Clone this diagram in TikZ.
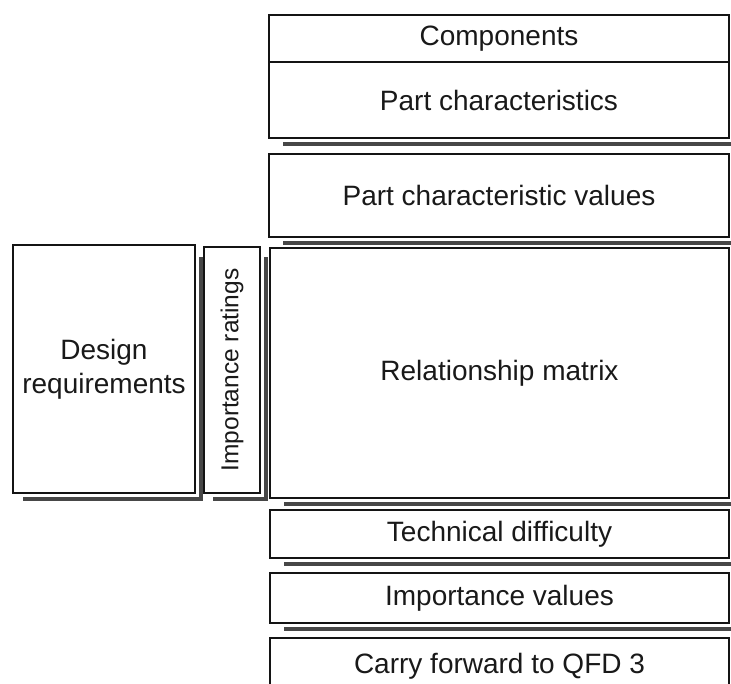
\documentclass[tikz,border=0pt]{standalone}
\usepackage{fontspec}
\setmainfont{Liberation Sans}
\begin{document}
\begin{tikzpicture}[x=1pt,y=-1pt,
  box/.style={draw=black!92, line width=2.8pt, inner sep=0pt, outer sep=0pt,
    anchor=north west, align=center, text=black!90,
    font=\fontsize{28}{34}\selectfont},
  shade/.style={draw=black!72, line width=3.4pt}]
\useasboundingbox (0,0) rectangle (731,684);
\clip (0,0) rectangle (731,684);

% header block
\node[box, minimum width=460pt, minimum height=47pt] (comp) at (269,15) {Components};
\node[box, minimum width=460pt, minimum height=76pt] (pchar) at (269,62) {\raisebox{-3pt}{Part characteristics}};
\node[box, minimum width=460pt, minimum height=83pt] (pcv) at (269,154) {Part characteristic values};

% left-hand columns
\node[box, minimum width=182pt, minimum height=248pt] (des) at (13,245) {Design\\requirements};
\node[box, minimum width=56pt, minimum height=246pt, font=\fontsize{24.5}{30}\selectfont] (imp) at (204,247)
  {\rotatebox{90}{Importance ratings}};

% central matrix
\node[box, minimum width=459pt, minimum height=250pt] (rel) at (270,248) {Relationship matrix};

% lower rows
\node[box, minimum width=459pt, minimum height=48pt] (tech) at (270,510) {Technical difficulty};
\node[box, minimum width=459pt, minimum height=50pt] (impv) at (270,573) {Importance values};
\node[box, minimum width=459pt, minimum height=56pt] (carry) at (270,638) {Carry forward to QFD 3};

% offset shadow lines under each block
\draw[shade] ([xshift=14pt,yshift=-6pt]pchar.south west) -| ([xshift=6pt,yshift=-10pt]comp.north east);
\draw[shade] ([xshift=14pt,yshift=-6pt]pcv.south west) -| ([xshift=6pt,yshift=-10pt]pcv.north east);
\draw[shade] ([xshift=14pt,yshift=-6pt]rel.south west) -| ([xshift=6pt,yshift=-10pt]rel.north east);
\draw[shade] ([xshift=10pt,yshift=-6pt]des.south west) -| ([xshift=6pt,yshift=-12pt]des.north east);
\draw[shade] ([xshift=9pt,yshift=-6pt]imp.south west) -| ([xshift=6pt,yshift=-10pt]imp.north east);
\draw[shade] ([xshift=14pt,yshift=-6pt]tech.south west) -| ([xshift=6pt,yshift=-10pt]tech.north east);
\draw[shade] ([xshift=14pt,yshift=-6pt]impv.south west) -| ([xshift=6pt,yshift=-10pt]impv.north east);
\end{tikzpicture}
\end{document}
